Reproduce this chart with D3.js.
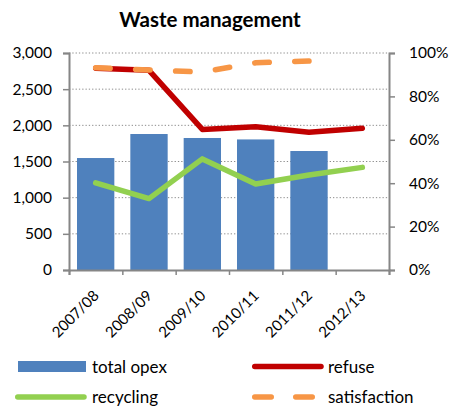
<!DOCTYPE html>
<html><head><meta charset="utf-8">
<script src="https://cdn.jsdelivr.net/npm/d3@7"></script>
<style>body{margin:0;background:#fff}svg{display:block;font-family:Lato,"Open Sans",sans-serif}</style>
</head><body><svg id="c" width="451" height="410"></svg>
<script>
const categories = ["2007/08","2008/09","2009/10","2010/11","2011/12","2012/13"];
const totalOpex = [1548, 1880, 1825, 1805, 1645, null];
const refuse = [0.93, 0.92, 0.648, 0.66, 0.635, 0.653];
const recycling = [0.402, 0.329, 0.512, 0.396, 0.438, 0.473];
const satisfaction = [0.932, 0.922, 0.912, 0.955, 0.963, null];
const leftTicks = [0, 500, 1000, 1500, 2000, 2500, 3000];
const rightTicks = [0, 0.2, 0.4, 0.6, 0.8, 1.0];

const svg = d3.select("#c");
const L = 69, R = 389, T = 53, B = 270;
const x = d3.scaleBand().domain(categories).range([L, R]).paddingInner(0.3).paddingOuter(0.15);
const xc = d => x(d) + x.bandwidth() / 2;
const yL = d3.scaleLinear().domain([0, 3000]).range([B, T]);
const yR = d3.scaleLinear().domain([0, 1]).range([B, T]);
const axisCol = "#868686";

svg.append("text").attr("x", 210).attr("y", 27).attr("text-anchor", "middle")
  .attr("font-weight", "bold").attr("font-size", 20.5).text("Waste management");

// gridlines
svg.append("g").selectAll("line").data(leftTicks.filter(d => d > 0)).join("line")
  .attr("x1", L).attr("x2", R).attr("y1", d => yL(d)).attr("y2", d => yL(d))
  .attr("stroke", "#8c8c8c").attr("stroke-width", 1).attr("stroke-dasharray", "1.3,2");

// bars
svg.append("g").selectAll("rect").data(categories.map((c, i) => ({c, v: totalOpex[i]})).filter(d => d.v != null)).join("rect")
  .attr("x", d => x(d.c)).attr("width", x.bandwidth())
  .attr("y", d => yL(d.v)).attr("height", d => B - yL(d.v))
  .attr("fill", "#4f81bd");

// axes
const fs = 15.5;
const gl = svg.append("g").attr("transform", `translate(${L},0)`)
  .call(d3.axisLeft(yL).tickValues(leftTicks).tickFormat(d3.format(",")).tickSizeOuter(0).tickSize(6).tickPadding(11));
const gr = svg.append("g").attr("transform", `translate(${R},0)`)
  .call(d3.axisRight(yR).tickValues(rightTicks).tickFormat(d3.format(".0%")).tickSizeOuter(0).tickSize(6).tickPadding(14));
const xb = d3.scalePoint().domain(d3.range(categories.length + 1)).range([L, R]);
const gb = svg.append("g").attr("transform", `translate(0,${B})`)
  .call(d3.axisBottom(xb).tickFormat("").tickSizeOuter(0).tickSize(5));
[gl, gr, gb].forEach(g => {
  g.select(".domain").attr("stroke", axisCol).attr("stroke-width", 2);
  g.selectAll(".tick line").attr("stroke", axisCol).attr("stroke-width", 1.5);
  g.selectAll("text").attr("font-size", fs).attr("fill", "#000").attr("font-family", "Lato, sans-serif");
});

// x labels
svg.append("g").selectAll("text").data(categories).join("text")
  .attr("transform", d => `translate(${xc(d) + 0.5},${B + 23}) rotate(-45)`)
  .attr("text-anchor", "end").attr("dy", "0.35em").attr("font-size", 15).text(d => d);

// lines
const line = d3.line().defined(d => d.v != null).x(d => xc(d.c)).y(d => yR(d.v));
const mk = arr => categories.map((c, i) => ({c, v: arr[i]}));
svg.append("path").datum(mk(recycling)).attr("d", line).attr("fill", "none")
  .attr("stroke", "#92d050").attr("stroke-width", 5.5).attr("stroke-linejoin", "round").attr("stroke-linecap", "round");
svg.append("path").datum(mk(refuse)).attr("d", line).attr("fill", "none")
  .attr("stroke", "#c00000").attr("stroke-width", 5.5).attr("stroke-linejoin", "round").attr("stroke-linecap", "round");
svg.append("path").datum(mk(satisfaction)).attr("d", line).attr("fill", "none")
  .attr("stroke", "#f79646").attr("stroke-width", 5.5).attr("stroke-dasharray", "14.5,25.5").attr("stroke-linecap", "round");

// legend
const leg = svg.append("g").attr("font-size", 17);
const items = [
  {name: "total opex", type: "bar", col: "#4f81bd", x: 18, y: 366.5},
  {name: "refuse", type: "line", col: "#c00000", x: 252, y: 366.5},
  {name: "recycling", type: "line", col: "#92d050", x: 15, y: 397},
  {name: "satisfaction", type: "dash", col: "#f79646", x: 252, y: 397}
];
items.forEach(it => {
  if (it.type === "bar") {
    leg.append("rect").attr("x", it.x).attr("y", it.y - 5.5).attr("width", 68).attr("height", 11).attr("fill", it.col);
  } else {
    leg.append("line").attr("x1", it.x + 2.75).attr("x2", it.x + 69).attr("y1", it.y).attr("y2", it.y)
      .attr("stroke", it.col).attr("stroke-width", 5.5).attr("stroke-linecap", "round")
      .attr("stroke-dasharray", it.type === "dash" ? "16.5,24.5" : null);
  }
  leg.append("text").attr("x", it.type === "bar" || it.x < 100 ? 92 : 328).attr("y", it.y).attr("dy", "0.36em").text(it.name);
});
</script></body></html>
